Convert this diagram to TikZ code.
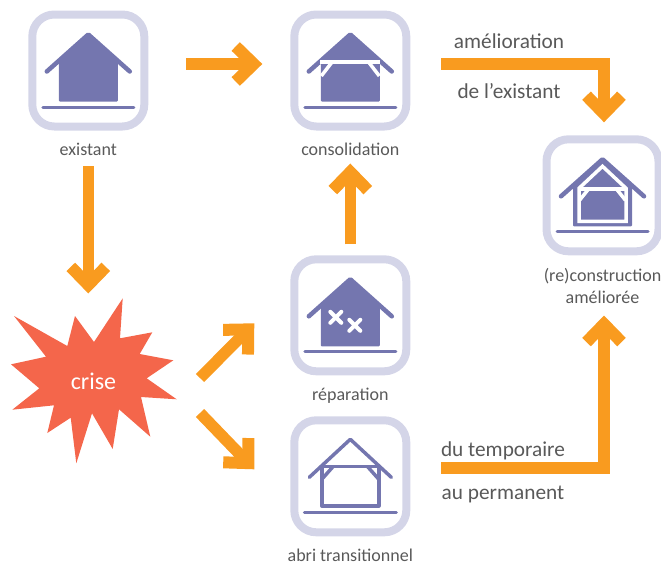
\documentclass[tikz,border=0pt]{standalone}
\usepackage{fontspec}
\setmainfont{Carlito}
\usepackage{tikz}
\usetikzlibrary{positioning,arrows.meta}

\definecolor{boxlilac}{HTML}{D4D5E8}
\definecolor{housepurple}{HTML}{7476AF}
\definecolor{floworange}{HTML}{F99B1F}
\definecolor{crisered}{HTML}{F4664B}
\definecolor{textgrey}{HTML}{595959}

\tikzset{
  iconbox/.style={draw=boxlilac,line width=8pt,rounded corners=22pt,minimum size=112pt,inner sep=0pt},
  caption/.style={font=\fontsize{18}{22}\selectfont,text=textgrey,align=center,inner sep=0pt},
  flowlabel/.style={font=\fontsize{21.3}{24}\selectfont,text=textgrey,inner sep=0pt},
  flow/.style={draw=floworange,line width=11.5pt,-{Straight Barb[length=18pt,width=35pt,line width=12pt]}},
  roofline/.style={draw=housepurple,line width=4.5pt,line cap=round,line join=round},
  groundline/.style={draw=housepurple,line width=3pt,line cap=round},
  whiteline/.style={draw=white,line width=3.5pt},
  thinline/.style={draw=housepurple,line width=3.5pt,line join=round},
  solidhouse/.pic={
    \fill[housepurple,rounded corners=1pt] (-29.5,-9) -- (0,-36) -- (29.5,-9) -- (29.5,31) -- (-29.5,31) -- cycle;
    \draw[roofline] (-41.5,1) -- (0,-36) -- (41.5,1);
    \draw[groundline] (-45.5,36.5) -- (45.5,36.5);
  },
}

\begin{document}
\begin{tikzpicture}[x=1pt,y=-1pt]
  \useasboundingbox (0,0) rectangle (661,565);

  \node[iconbox](existant) at (88.3,70.5){};
  \node[iconbox](consolidation) at (350.3,70.5){};
  \node[iconbox](reparation) at (350.3,315.3){};
  \node[iconbox](abri) at (350.3,476.3){};
  \node[iconbox](reconstruction) at (602.5,195.3){};

  \node[caption,below=12pt of existant](existanttext){existant};
  \node[caption,below=12pt of consolidation](consolidationtext){consolidation};
  \node[caption,below=12.5pt of reparation](reparationtext){réparation};
  \node[caption,below=12pt of abri](abritext){abri transitionnel};
  \node[caption,below=12.5pt of reconstruction](reconstructiontext){(re)construction\\améliorée};

  % star
  \fill[crisered] (122.7,298.3) -- (120,338.3) -- (152.3,332.3) -- (139.7,354) -- (173.3,360.3)
    -- (146.7,378.3) -- (176.7,399.3) -- (141,397) -- (150.3,436.7) -- (119,409.3) -- (112.7,449)
    -- (92,413.3) -- (76.3,463.3) -- (70.7,417.7) -- (47.3,433) -- (54,405.3) -- (12.3,409.7)
    -- (39.3,388.3) -- (11,364.3) -- (46,356.7) -- (14,316) -- (67.3,346) -- (75,316) -- (94,342) -- cycle;
  \node[font=\fontsize{24}{24}\selectfont,text=white,inner sep=0pt](crise) at (93.5,381){crise};
  \coordinate (criseup) at (200,378);
  \coordinate (crisedown) at (200,413);

  % houses
  \pic at (existant) {solidhouse};

  \pic at (consolidation) {solidhouse};
  \begin{scope}[shift={(consolidation)}]
    \draw[whiteline] (-30,-8.5) -- (30,-8.5);
    \draw[whiteline] (-18.6,-8) -- (-29,5.5);
    \draw[whiteline] (18.6,-8) -- (29,5.5);
  \end{scope}

  \pic at (reparation) {solidhouse};
  \begin{scope}[shift={(reparation)}]
    \draw[whiteline,line width=4pt,line cap=round] (-20,-3.5) -- (-9,7.5) (-9,-3.5) -- (-20,7.5);
    \draw[whiteline,line width=4pt,line cap=round] (-1,4.5) -- (10,15.5) (10,4.5) -- (-1,15.5);
  \end{scope}

  \begin{scope}[shift={(abri)}]
    \draw[thinline,line cap=round] (-41,1) -- (0,-37) -- (41,1);
    \draw[thinline] (-28.5,-10) -- (-28.5,29.7) -- (28.5,29.7) -- (28.5,-10) -- cycle;
    \draw[thinline] (-17,-10) -- (-28.5,3);
    \draw[thinline] (17,-10) -- (28.5,3);
    \draw[groundline] (-46,36) -- (46,36);
  \end{scope}

  \pic at (reconstruction) {solidhouse};
  \begin{scope}[shift={(reconstruction)}]
    \draw[whiteline,line join=miter] (-23.5,-7) -- (0,-29) -- (23.5,-7) -- (23.5,26) -- (-23.5,26) -- cycle;
    \draw[whiteline] (-23.5,-6.3) -- (23.5,-6.3);
    \draw[whiteline] (-14.2,-6) -- (-23,5);
    \draw[whiteline] (14.2,-6) -- (23,5);
  \end{scope}

  % arrows
  \draw[flow,shorten <=38pt,shorten >=28pt] ([yshift=6.5pt]existant.east) -- ([yshift=6.5pt]consolidation.west);
  \draw[flow,shorten <=11pt,shorten >=79pt] (existanttext.south) -- (existanttext.south |- crise.north);
  \draw[flow,shorten <=11pt,shorten >=8pt] (reparation.north) -- (consolidationtext.south);
  \draw[flow] (criseup) -- ([xshift=-36pt,yshift=-8pt]reparation.west);
  \draw[flow] (crisedown) -- ([xshift=-36pt,yshift=7pt]abri.west);
  \draw[flow,shorten >=13pt] ([xshift=31pt,yshift=6.5pt]consolidation.east) -| ([xshift=1.5pt]reconstruction.north);
  \draw[flow,shorten >=12pt] ([xshift=31pt,yshift=8.3pt]abri.east) -| ([xshift=1.5pt]reconstructiontext.south);

  % arrow texts
  \node[flowlabel,anchor=base](ameliorationtext) at (509,48){amélioration};
  \node[flowlabel,anchor=base](existanttwo) at (509,98){de l’existant};
  \node[flowlabel,anchor=base](temporaire) at (503,456){du temporaire};
  \node[flowlabel,anchor=base](permanent) at (503,499){au permanent};
\end{tikzpicture}
\end{document}
